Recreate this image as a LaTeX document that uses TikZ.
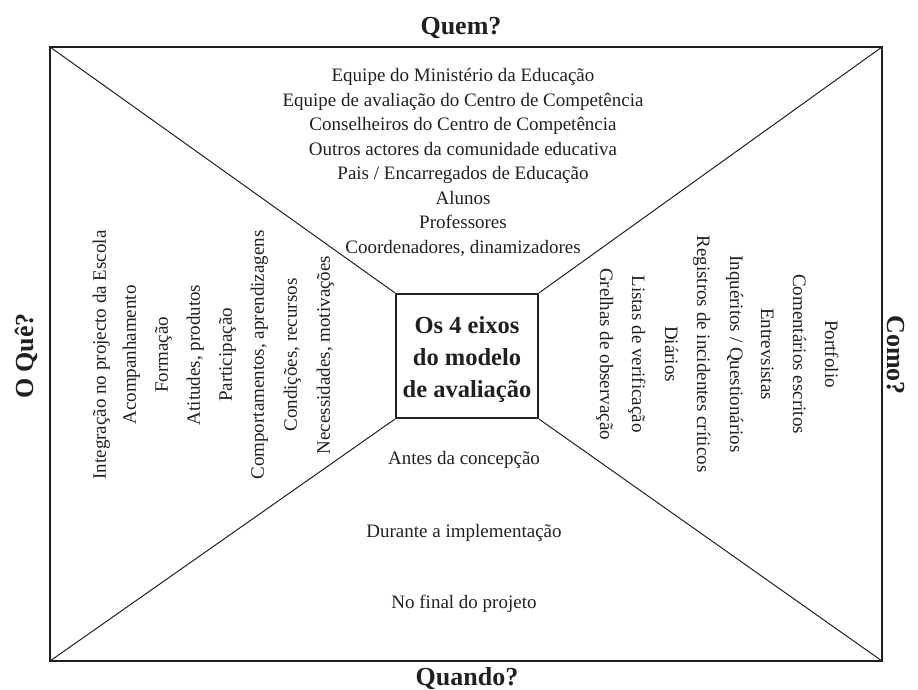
\documentclass[tikz,border=0pt]{standalone}
\usepackage{fontspec}
\setmainfont{Liberation Serif}
\definecolor{ink}{HTML}{231F20}
\begin{document}
\begin{tikzpicture}[x=1pt,y=-1pt,
  lbl/.style={font=\fontsize{19}{24}\selectfont, text height=1.5ex, text depth=.25ex, inner sep=0pt, text=ink},
  ttl/.style={font=\fontsize{26}{30}\selectfont\bfseries, inner sep=0pt, text=ink},
  frame/.style={draw=ink, line width=1.3pt},
  diag/.style={draw=ink, line width=1pt},
  centre/.style={draw=ink, line width=2.4pt, minimum width=142pt, minimum height=124pt, inner sep=0pt},
  centretext/.style={font=\fontsize{24.5}{32}\selectfont\bfseries, align=center, inner sep=0pt, text=ink}]
\useasboundingbox (0,0) rectangle (918,690);
% outer frame
\coordinate (tl) at (50,47);
\coordinate (tr) at (882,47);
\coordinate (br) at (882,661);
\coordinate (bl) at (50,661);
\draw[frame] (tl) -- (tr) -- (br) -- (bl) -- cycle;
% centre box
\node[centre] (box) at (467,356) {};
\draw[diag] (tl) -- (box.north west);
\draw[diag] (tr) -- (box.north east);
\draw[diag] (br) -- (box.south east);
\draw[diag] (bl) -- (box.south west);
\node[centretext] (boxtxt) at (467,360) {Os 4 eixos\\do modelo\\de avaliação};
% titles
\node[ttl, anchor=base] (quem) at (461,35) {Quem?};
\node[ttl, anchor=base] (quando) at (467,685) {Quando?};
\node[ttl, anchor=base, rotate=90] (oque) at (33,356) {O Quê?};
\node[ttl, anchor=base, rotate=-90] (como) at (887,355) {Como?};
% top: Quem
\node[lbl] (q1) at (463,79) {Equipe do Ministério da Educação};
\node[lbl] (q2) at (463,103.5) {Equipe de avaliação do Centro de Competência};
\node[lbl] (q3) at (463,128) {Conselheiros do Centro de Competência};
\node[lbl] (q4) at (463,152.5) {Outros actores da comunidade educativa};
\node[lbl] (q5) at (463,177) {Pais / Encarregados de Educação};
\node[lbl] (q6) at (463,201.5) {Alunos};
\node[lbl] (q7) at (463,226) {Professores};
\node[lbl] (q8) at (463,250.5) {Coordenadores, dinamizadores};
% left: O Quê
\node[lbl, rotate=90] (w1) at (103,355) {Integração no projecto da Escola};
\node[lbl, rotate=90] (w2) at (133,355) {Acompanhamento};
\node[lbl, rotate=90] (w3) at (165,355) {Formação};
\node[lbl, rotate=90] (w4) at (197,355) {Atitudes, produtos};
\node[lbl, rotate=90] (w5) at (229,355) {Participação};
\node[lbl, rotate=90] (w6) at (261,355) {Comportamentos, aprendizagens};
\node[lbl, rotate=90] (w7) at (294,355) {Condições, recursos};
\node[lbl, rotate=90] (w8) at (327,355) {Necessidades, motivações};
% right: Como
\node[lbl, rotate=-90] (c1) at (603,354) {Grelhas de observação};
\node[lbl, rotate=-90] (c2) at (635,354) {Listas de verificação};
\node[lbl, rotate=-90] (c3) at (668,354) {Diários};
\node[lbl, rotate=-90] (c4) at (700,354) {Registros de incidentes críticos};
\node[lbl, rotate=-90] (c5) at (733,354) {Inquéritos / Questionários};
\node[lbl, rotate=-90] (c6) at (764,354) {Entrevsistas};
\node[lbl, rotate=-90] (c7) at (796,354) {Comentários escritos};
\node[lbl, rotate=-90] (c8) at (828,354) {Portfolio};
% bottom: Quando
\node[lbl] (t1) at (464,462) {Antes da concepção};
\node[lbl] (t2) at (464,535) {Durante a implementação};
\node[lbl] (t3) at (464,606) {No final do projeto};
\end{tikzpicture}
\end{document}
